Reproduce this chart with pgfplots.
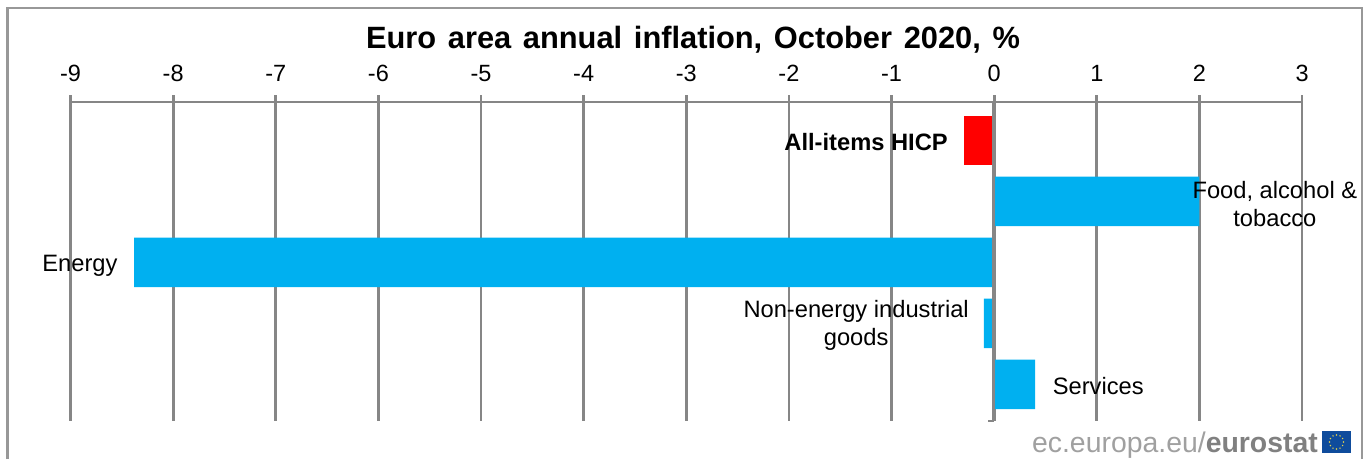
\documentclass[border=0pt]{standalone}
\usepackage{fontspec}
\setmainfont{Liberation Sans}
\usepackage{pgfplots}
\pgfplotsset{compat=1.18}
\definecolor{barblue}{HTML}{00B0F0}
\definecolor{gridgray}{HTML}{868686}
\definecolor{logogray}{HTML}{A0A0A0}
\definecolor{logodark}{HTML}{808080}
\definecolor{eublue}{HTML}{0F4C9C}
\definecolor{euyellow}{HTML}{E8D44A}
\begin{document}
\begin{tikzpicture}[x=1pt,y=1pt]
\useasboundingbox (0,0) rectangle (1368,459);
% outer frame (open at the bottom)
\draw[gridgray!85,line width=2.5pt] (7.5,0) -- (7.5,451) -- (1362,451) -- (1362,0);
\begin{axis}[
  at={(70.5pt,38pt)}, anchor=south west,
  scale only axis, width=1231.5pt, height=319pt,
  xmin=-9, xmax=3, ymin=-0.63, ymax=4.60,
  y dir=reverse,
  axis x line=top, axis y line=none,
  x axis line style={-,gridgray,line width=2.8pt},
  xtick={-9,-8,-7,-6,-5,-4,-3,-2,-1,0,1,2,3},
  xticklabels={-9,-8,-7,-6,-5,-4,-3,-2,-1,0,1,2,3},
  xmajorgrids,
  major grid style={gridgray,line width=2.8pt},
  tick style={gridgray,line width=2.8pt},
  major tick length=7pt,
  xtick align=outside,
  xticklabel style={font=\fontsize{23.5}{25}\selectfont,text=black,yshift=9.5pt},
  ytick=\empty,
  clip=false,
  xbar, bar shift=0pt, bar width=49.5pt,
]
\addplot[draw=none,fill=red] coordinates {(-0.29,0)};
\addplot[draw=none,fill=barblue] coordinates {(2.0,1) (-8.38,2) (-0.1,3) (0.4,4)};
\draw[gridgray,line width=2.8pt] (axis cs:-0.005,-0.63) -- (axis cs:-0.005,4.60);
\draw[gridgray,line width=2.8pt] (axis cs:-0.06,4.60) -- (axis cs:-0.005,4.60);
\node[font=\fontsize{23.7}{25}\selectfont\bfseries,anchor=center] at (axis cs:-1.248,0.03) {All-items HICP};
\node[font=\fontsize{23.7}{28}\selectfont,align=center,anchor=center] at (axis cs:2.735,1.05) {Food, alcohol \&\\tobacco};
\node[font=\fontsize{23.7}{25}\selectfont,anchor=center] at (axis cs:-8.908,2.05) {Energy};
\node[font=\fontsize{23.7}{28}\selectfont,align=center,anchor=center] at (axis cs:-1.345,3.04) {Non-energy industrial\\goods};
\node[font=\fontsize{23.7}{25}\selectfont,anchor=center] at (axis cs:1.014,4.03) {Services};
\end{axis}
\node[font=\fontsize{30.8}{34}\selectfont\bfseries,anchor=center] at (693,419.5) {\spaceskip=11.7pt Euro area annual inflation, October 2020, \%};
% source logo
\node[font=\fontsize{28.4}{32}\selectfont,text=logogray,anchor=base east,inner sep=0pt] at (1318,7) {ec.europa.eu/\textcolor{logodark}{\textbf{eurostat}}};
\fill[eublue] (1322,6) rectangle (1351,28);
\foreach \a in {0,30,...,330}{\fill[euyellow] ({1336.5+7*cos(\a)},{17+7*sin(\a)}) circle (0.8);}
\end{tikzpicture}
\end{document}
